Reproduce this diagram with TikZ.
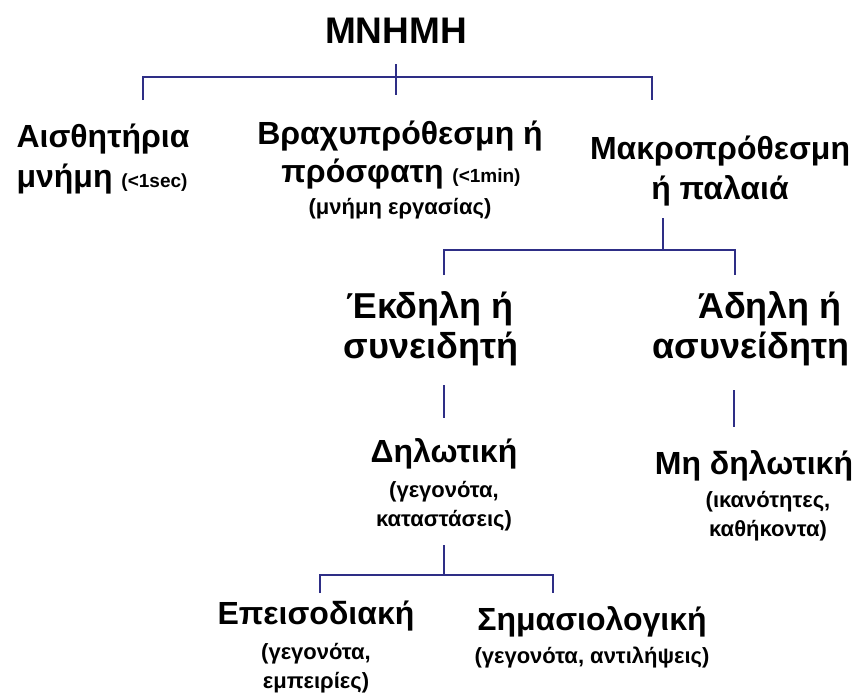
\documentclass[tikz,border=0pt]{standalone}
\usepackage{fontspec}
\setmainfont{Liberation Sans}
\definecolor{linec}{HTML}{2E2E86}
\tikzset{
  big/.style={font=\fontsize{32}{38}\selectfont\bfseries, inner sep=0pt, anchor=base},
  bigger/.style={font=\fontsize{36}{42}\selectfont\bfseries, inner sep=0pt, anchor=base},
  title/.style={font=\fontsize{37}{42}\selectfont\bfseries, inner sep=0pt, anchor=base},
  sub/.style={font=\fontsize{22}{26}\selectfont\bfseries, inner sep=0pt, anchor=base},
  conn/.style={draw=linec, line width=2pt}
}
\newcommand{\smallpar}[1]{{\fontsize{19}{22}\selectfont #1}}
\begin{document}
\begin{tikzpicture}[x=1pt,y=-1pt]
\useasboundingbox (0,0) rectangle (855,696);
% title
\node[title] (title) at (396,43) {MNHMH};
% level 1
\node[big] (sensA) at (103,147) {Αισθητήρια};
\node[big] (sensB) at (102,187) {μνήμη \smallpar{(<1sec)}};
\node[big] (shortA) at (400,144) {Βραχυπρόθεσμη ή};
\node[big] (shortB) at (401,182) {πρόσφατη \smallpar{(<1min)}};
\node[sub] (shortC) at (400,214) {(μνήμη εργασίας)};
\node[big] (longA) at (720,159) {Μακροπρόθεσμη};
\node[big] (longB) at (720,199) {ή παλαιά};
% level 2
\node[bigger] (explA) at (430,318) {Έκδηλη ή};
\node[bigger] (explB) at (431,358) {συνειδητή};
\node[bigger] (implA) at (770,318) {Άδηλη ή};
\node[bigger] (implB) at (751,358) {ασυνείδητη};
% level 3
\node[big] (declA) at (444,462) {Δηλωτική};
\node[sub] (declB) at (444,497) {(γεγονότα,};
\node[sub] (declC) at (444,526) {καταστάσεις)};
\node[big] (ndecA) at (754,474) {Μη δηλωτική};
\node[sub] (ndecB) at (768,507) {(ικανότητες,};
\node[sub] (ndecC) at (768,536) {καθήκοντα)};
% level 4
\node[big] (epiA) at (316,624) {Επεισοδιακή};
\node[sub] (epiB) at (316,659) {(γεγονότα,};
\node[sub] (epiC) at (316,688) {εμπειρίες)};
\node[big] (semA) at (592,630) {Σημασιολογική};
\node[sub] (semB) at (592,663) {(γεγονότα, αντιλήψεις)};
% connector coordinates
\coordinate (b1top) at (396,64);
\coordinate (b1mid) at (396,95);
\coordinate (b1l) at (143,100);
\coordinate (b1r) at (652,100);
\coordinate (b2top) at (663,218);
\coordinate (b2l) at (444,275);
\coordinate (b2r) at (735,275);
\coordinate (v3at) at (444,385);
\coordinate (v3ab) at (444,418);
\coordinate (v3bt) at (734,390);
\coordinate (v3bb) at (734,427);
\coordinate (b4top) at (444,545);
\coordinate (b4l) at (320,593);
\coordinate (b4r) at (553,593);
% brackets
\draw[conn] (b1l) |- (b1mid |- 0,77) -| (b1r);
\draw[conn] (b1top) -- (b1mid);
\draw[conn] (b2l) |- (b2top |- 0,250) -| (b2r);
\draw[conn] (b2top) -- (b2top |- 0,250);
\draw[conn] (v3at) -- (v3ab);
\draw[conn] (v3bt) -- (v3bb);
\draw[conn] (b4l) |- (b4top |- 0,575) -| (b4r);
\draw[conn] (b4top) -- (b4top |- 0,575);
\end{tikzpicture}
\end{document}
